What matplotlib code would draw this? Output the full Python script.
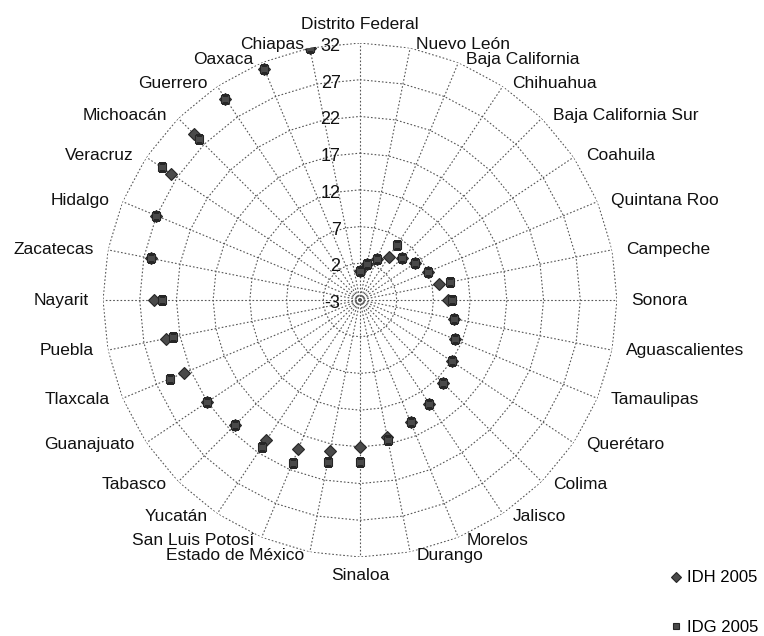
"""Radar chart of state rankings: IDH 2005 vs IDG 2005 (rank 1 = best)."""

import matplotlib

matplotlib.use("Agg")

import matplotlib.pyplot as plt
import numpy as np
from matplotlib.lines import Line2D

plt.rcParams["font.family"] = ["Liberation Sans", "DejaVu Sans"]

states = [
    "Distrito Federal", "Nuevo León", "Baja California", "Chihuahua",
    "Baja California Sur", "Coahuila", "Quintana Roo", "Campeche", "Sonora",
    "Aguascalientes", "Tamaulipas", "Querétaro", "Colima", "Jalisco",
    "Morelos", "Durango", "Sinaloa", "Estado de México", "San Luis Potosí",
    "Yucatán", "Tabasco", "Guanajuato", "Tlaxcala", "Puebla", "Nayarit",
    "Zacatecas", "Hidalgo", "Veracruz", "Michoacán", "Guerrero", "Oaxaca",
    "Chiapas",
]
idh_2005 = [1, 2, 3, 4, 5, 6, 7, 8, 9, 10, 11, 12, 13, 14, 15, 16,
            17, 18, 19, 20, 21, 22, 23, 24, 25, 26, 27, 28, 29, 30, 31, 32]
idg_2005 = [1, 2, 3, 6, 5, 6, 7, 9.5, 9.5, 10, 11, 12, 13, 14, 15, 16.5,
            19, 19.5, 21, 21, 21, 22, 25, 23, 24, 26, 27, 29.5, 28, 30, 31, 32]
rings = [2, 7, 12, 17, 22, 27, 32]
r_min, r_max = -3, 32

n = len(states)
theta = np.arange(n) * 2 * np.pi / n

fig = plt.figure(figsize=(7.64, 6.36), dpi=100)
ax = fig.add_axes([0.1348, 0.1242, 0.6728, 0.8082], projection="polar")
ax.set_theta_zero_location("N")
ax.set_theta_direction(-1)
ax.set_ylim(r_min, r_max)
ax.grid(False)
ax.spines["polar"].set_visible(False)
ax.set_xticks([])
ax.set_yticks([])
ax.patch.set_alpha(0)

grid_kw = dict(color="#555555", lw=0.8, ls=(0, (1.5, 1.8)), zorder=1)
# polygon rings and spokes, Excel radar style
th_closed = np.append(theta, theta[0])
for r in rings:
    ax.plot(th_closed, [r] * (n + 1), **grid_kw)
for t in theta:
    ax.plot([t, t], [r_min, r_max], **grid_kw)

# radial value labels along the first spoke
for r in [r_min] + rings:
    ax.annotate(str(r), xy=(0, r), xytext=(-14, -2.5), textcoords="offset points",
                ha="right", va="center", fontsize=13, color="#111111", zorder=3)

# category labels around the outside
for t, name in zip(theta, states):
    s, c = np.sin(t), np.cos(t)
    if abs(s) < 0.1:
        ha = "center"
        va = "bottom" if c > 0 else "top"
        dx, dy = 0, 8 * np.sign(c)
    else:
        ha = "left" if s > 0 else "right"
        va = "center"
        dx = 7 * s + 3 * np.sign(s)
        dy = 2.5 * c
    ax.annotate(name, xy=(t, r_max), xytext=(dx, dy), textcoords="offset points",
                ha=ha, va=va, fontsize=12.5, color="#111111",
                annotation_clip=False, zorder=3)

mk_kw = dict(ls="none", markerfacecolor="#4a4a4a", markeredgecolor="#262626",
             markeredgewidth=0.8, zorder=4)
ax.plot(theta, idh_2005, marker="D", markersize=6.5, **mk_kw)
ax.plot(theta, idg_2005, marker="s", markersize=6, **mk_kw)

handles = [
    Line2D([], [], marker="D", markersize=5, **mk_kw),
    Line2D([], [], marker="s", markersize=5, **mk_kw),
]
fig.legend(handles, ["IDH 2005", "IDG 2005"], loc="upper left",
           bbox_to_anchor=(0.878, 0.103), frameon=False, fontsize=12,
           handlelength=0.6, handletextpad=0.35, labelspacing=2.05,
           borderpad=0, borderaxespad=0)

fig.savefig("out.png", dpi=100)
plt.close(fig)
